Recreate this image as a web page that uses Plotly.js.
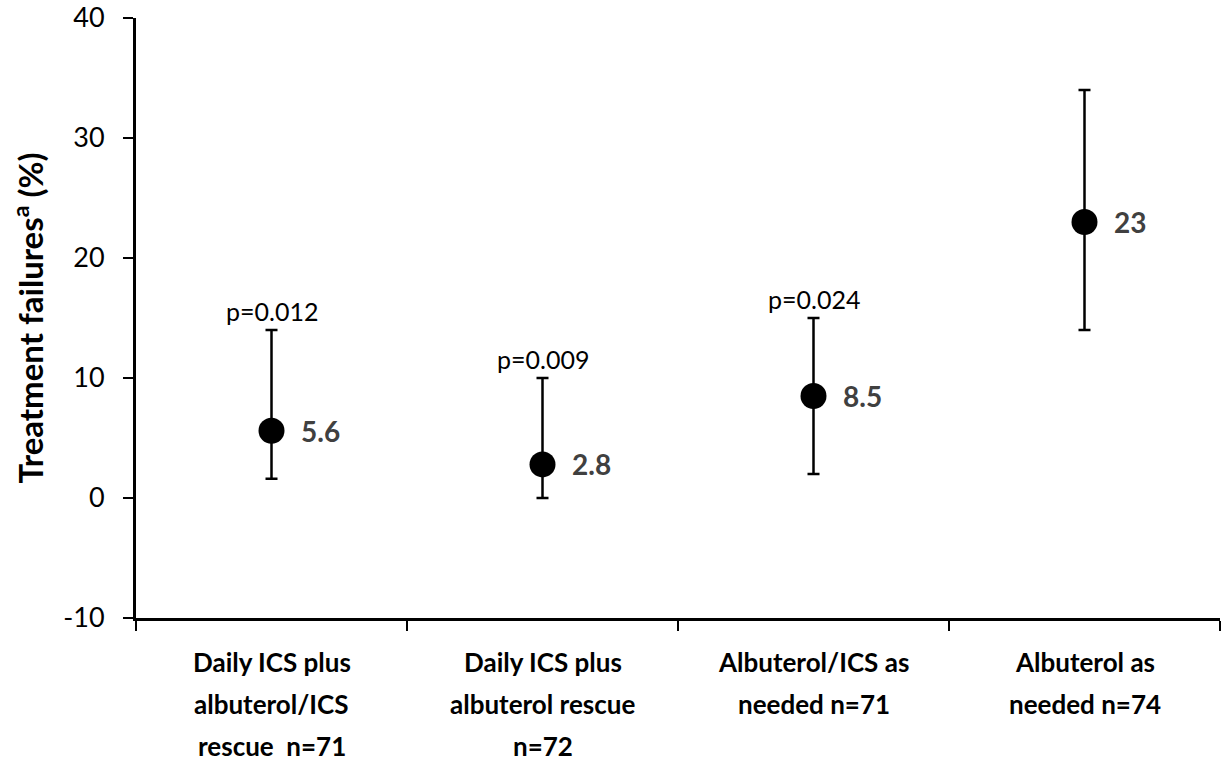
<!DOCTYPE html>
<html>
<head>
<meta charset="utf-8">
<script src="https://cdn.plot.ly/plotly-3.0.1.min.js"></script>
<style>html,body{margin:0;padding:0;background:#fff;}#chart{width:1223px;height:762px;}</style>
</head>
<body>
<div id="chart"></div>
<script>
const categories = ["Daily ICS plus albuterol/ICS rescue n=71", "Daily ICS plus albuterol rescue n=72", "Albuterol/ICS as needed n=71", "Albuterol as needed n=74"];
const categoryLines = [
  ["Daily ICS plus", "albuterol/ICS", "rescue  n=71"],
  ["Daily ICS plus", "albuterol rescue", "n=72"],
  ["Albuterol/ICS as", "needed n=71"],
  ["Albuterol as", "needed n=74"]
];
const values = [5.6, 2.8, 8.5, 23];
const valueLabels = ["5.6", "2.8", "8.5", "23"];
const upperCI = [14, 10, 15, 34];
const lowerCI = [1.6, 0, 2, 14];
const pValues = ["p=0.012", "p=0.009", "p=0.024", ""];
const yTicks = [-10, 0, 10, 20, 30, 40];

const FONT = "Lato, 'Liberation Sans', sans-serif";

const trace = {
  type: "scatter",
  mode: "markers",
  x: categories,
  y: values,
  marker: {size: 26, color: "#000000", symbol: "circle"},
  error_y: {
    type: "data",
    symmetric: false,
    array: upperCI.map((u, i) => u - values[i]),
    arrayminus: lowerCI.map((l, i) => values[i] - l),
    color: "#000000",
    thickness: 2.5,
    width: 6
  },
  hoverinfo: "skip",
  showlegend: false
};

const annotations = [];
categories.forEach((c, i) => {
  annotations.push({
    x: c, y: values[i], xref: "x", yref: "y",
    text: "<b>" + valueLabels[i] + "</b>",
    showarrow: false, xanchor: "left", yanchor: "middle", xshift: 27,
    font: {family: FONT, size: 28, color: "#404040"}
  });
  if (pValues[i]) {
    annotations.push({
      x: c, y: upperCI[i], xref: "x", yref: "y",
      text: pValues[i],
      showarrow: false, xanchor: "center", yanchor: "bottom", yshift: 2,
      font: {family: FONT, size: 25, color: "#000000"}
    });
  }
  categoryLines[i].forEach((line, j) => {
    annotations.push({
      x: c, y: 0, xref: "x", yref: "paper",
      text: "<b>" + line + "</b>",
      showarrow: false, xanchor: "center", yanchor: "middle", yshift: -44 - 42 * j,
      font: {family: FONT, size: 26, color: "#000000"}
    });
  });
});

const layout = {
  width: 1223, height: 762,
  margin: {l: 136, r: 3, t: 18, b: 144},
  paper_bgcolor: "#ffffff", plot_bgcolor: "#ffffff",
  font: {family: FONT, color: "#000000"},
  showlegend: false,
  xaxis: {
    type: "category",
    range: [-0.5, 3.5],
    showticklabels: false,
    tickson: "boundaries",
    ticks: "outside", ticklen: 10, tickwidth: 2.5, tickcolor: "#000",
    showline: true, linecolor: "#000", linewidth: 3,
    showgrid: false, zeroline: false, fixedrange: true
  },
  yaxis: {
    range: [-10, 40],
    tickvals: yTicks,
    ticktext: yTicks.map(String),
    ticks: "outside", ticklen: 10, tickwidth: 2.5, tickcolor: "#000",
    tickfont: {family: FONT, size: 27, color: "#000"},
    ticklabelstandoff: 13,
    showline: true, linecolor: "#000", linewidth: 3,
    showgrid: false, zeroline: false, fixedrange: true,
    title: {text: "<b>Treatment failures<sup>a</sup> (%)</b>", font: {family: FONT, size: 33, color: "#000"}, standoff: 10}
  },
  annotations: annotations
};

Plotly.newPlot("chart", [trace], layout, {displayModeBar: false, staticPlot: true});
</script>
</body>
</html>
